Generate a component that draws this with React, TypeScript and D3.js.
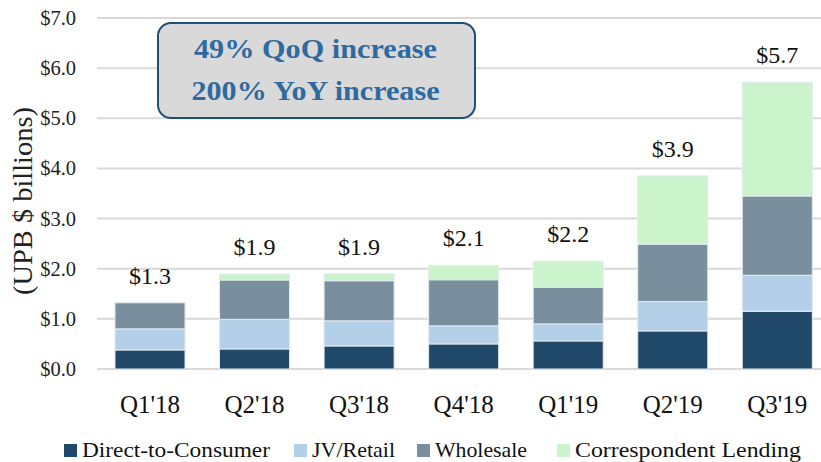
import React from "react";
import * as d3 from "d3";

const quarters = ["Q1'18", "Q2'18", "Q3'18", "Q4'18", "Q1'19", "Q2'19", "Q3'19"];
const directToConsumer = [0.38, 0.40, 0.46, 0.50, 0.56, 0.76, 1.15];
const jvRetail = [0.42, 0.59, 0.50, 0.36, 0.34, 0.585, 0.72];
const wholesale = [0.52, 0.785, 0.80, 0.92, 0.73, 1.145, 1.58];
const correspondent = [0.0, 0.12, 0.14, 0.285, 0.52, 1.36, 2.27];
const totalLabels = ["$1.3", "$1.9", "$1.9", "$2.1", "$2.2", "$3.9", "$5.7"];
const yTicks = [0, 1, 2, 3, 4, 5, 6, 7];
const seriesNames = ["Direct-to-Consumer", "JV/Retail", "Wholesale", "Correspondent Lending"];
const annotation = ["49% QoQ increase", "200% YoY increase"];

const colors = ["#204869", "#b4d0e8", "#7a8f9e", "#ccf4cc"];
const FAM = "Liberation Serif";
const TS = { fontFamily: '"Liberation Serif"' };

export default function App() {
  const W = 821, H = 462;
  const x = d3.scaleBand<string>().domain(quarters).range([97, 830.3]).paddingInner(0.33).paddingOuter(0.172);
  const y = d3.scaleLinear().domain([0, 7]).range([369, 18]);

  const table = quarters.map((q, i) => ({
    q,
    d: directToConsumer[i],
    j: jvRetail[i],
    w: wholesale[i],
    c: correspondent[i],
  }));
  const stack = d3.stack<any>().keys(["d", "j", "w", "c"])(table);
  const totals = quarters.map((_, i) => directToConsumer[i] + jvRetail[i] + wholesale[i] + correspondent[i]);

  const legendX = [64, 294, 417, 557];
  const legendLen = [188, 83, 92, 226];
  const annLen = [243, 248];

  return (
    <svg width={W} height={H} fontFamily={FAM} style={{ position: "absolute", left: 0, top: 0, background: "#fff" }}>
      <style>{`text { font-family: "Liberation Serif", serif; }`}</style>
      {yTicks.map((t) => (
        <g key={t}>
          <line x1={97} x2={W} y1={y(t)} y2={y(t)} stroke="#d9d9d9" strokeWidth={2} />
          <text x={76} y={y(t)} dy="0.34em" textAnchor="end" fontSize={20.5} fill="#222" fontFamily={FAM} style={TS}>
            {"$" + d3.format(".1f")(t)}
          </text>
        </g>
      ))}
      <text transform={`translate(32,${201}) rotate(-90)`} textAnchor="middle" fontSize={27} fill="#222"
        textLength={188} lengthAdjust="spacingAndGlyphs" fontFamily={FAM} style={TS}>
        (UPB $ billions)
      </text>
      {stack.map((s, si) => (
        <g key={si} fill={colors[si]}>
          {s.map((d, i) => (
            d[1] - d[0] > 0 ? (
              <rect key={i} x={x(quarters[i])} width={x.bandwidth()} y={y(d[1])} height={y(d[0]) - y(d[1])}
                stroke="#e3eaf1" strokeWidth={1} />
            ) : null
          ))}
        </g>
      ))}
      {quarters.map((q, i) => (
        <g key={q}>
          <text x={x(q)! + x.bandwidth() / 2} y={y(totals[i]) - 19} textAnchor="middle" fontSize={24} fill="#111" fontFamily={FAM} style={TS}>
            {totalLabels[i]}
          </text>
          <text x={x(q)! + x.bandwidth() / 2} y={413} textAnchor="middle" fontSize={25} fill="#111" fontFamily={FAM} style={TS}>
            {q}
          </text>
        </g>
      ))}
      <rect x={158} y={23} width={317} height={95} rx={13} ry={13} fill="#d9d9d9" stroke="#1f4e79" strokeWidth={2} />
      {annotation.map((a, i) => (
        <text key={i} x={315.5} y={58 + i * 41.5} textAnchor="middle" fontSize={26.5} fontWeight="bold" fill="#2f6a9f"
          textLength={annLen[i]} lengthAdjust="spacingAndGlyphs" fontFamily={FAM} style={TS}>
          {a}
        </text>
      ))}
      {seriesNames.map((n, i) => (
        <g key={n}>
          <rect x={legendX[i]} y={444} width={13} height={13} fill={colors[i]} />
          <text x={legendX[i] + 18} y={457} fontSize={22} fill="#111"
            textLength={legendLen[i]} lengthAdjust="spacingAndGlyphs" fontFamily={FAM} style={TS}>{n}</text>
        </g>
      ))}
    </svg>
  );
}
